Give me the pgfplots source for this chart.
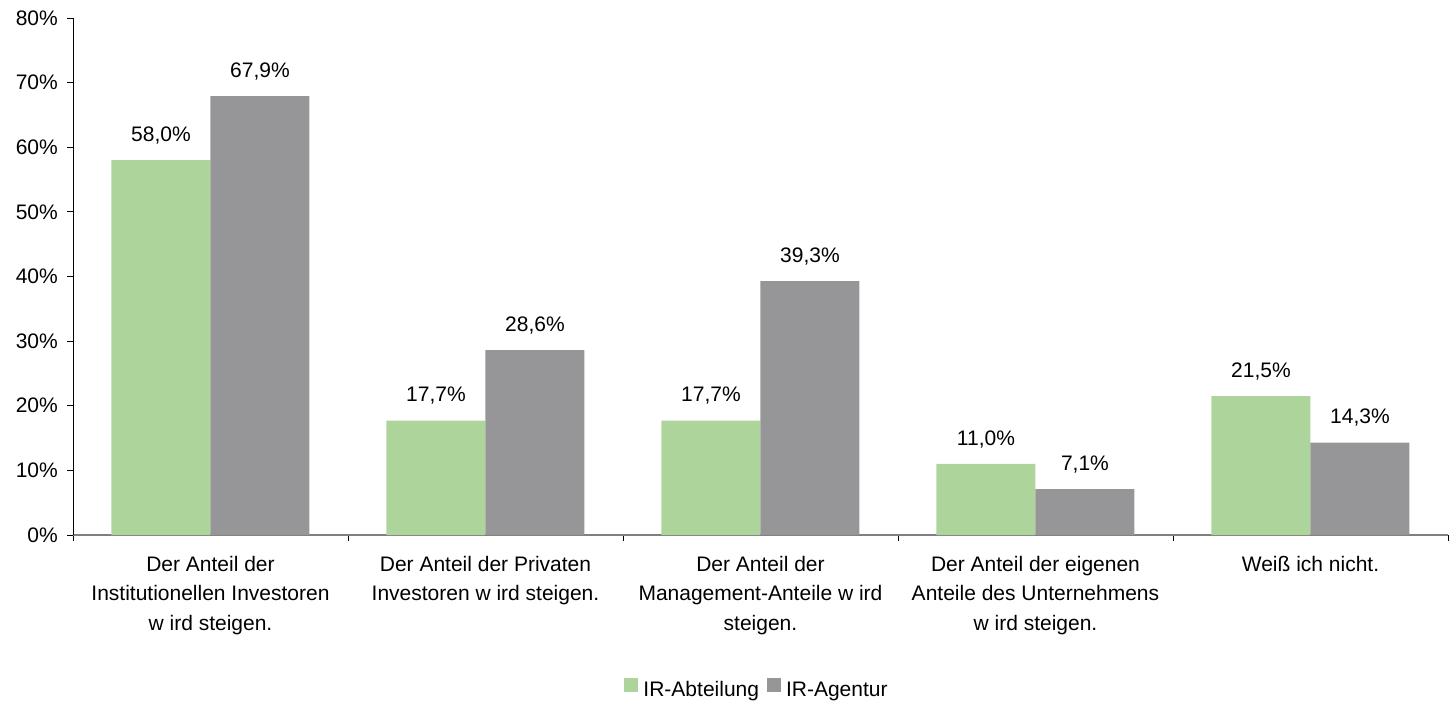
\documentclass[border=0pt]{standalone}
\usepackage{fontspec}
\setmainfont{Liberation Sans}
\usepackage{pgfplots}
\pgfplotsset{compat=1.18}
\definecolor{cgreen}{RGB}{173,213,155}
\definecolor{cgray}{RGB}{150,150,152}
\definecolor{caxis}{RGB}{128,128,128}
\begin{document}
\fontsize{21}{25}\selectfont
\begin{tikzpicture}
\path[use as bounding box] (0,0) rectangle (1451pt,702pt);
\begin{axis}[
  at={(73pt,167pt)}, anchor=south west,
  scale only axis, width=1375pt, height=517pt,
  ybar=0pt, bar width=99pt,
  xmin=-0.5, xmax=4.5, ymin=0, ymax=80,
  axis x line*=bottom, axis y line*=left,
  x axis line style={caxis, line width=1.5pt},
  y axis line style={black, line width=0.8pt},
  ytick={0,10,...,80},
  yticklabel={\pgfmathprintnumber{\tick}\%},
  tick align=outside,
  major tick length=6pt, minor tick length=6pt,
  ytick style={black, line width=0.8pt},
  y tick label style={xshift=-2pt},
  xtick={0,1,2,3,4},
  minor xtick={-0.5,0.5,1.5,2.5,3.5,4.5},
  major x tick style={draw=none},
  minor x tick style={black, line width=0.8pt},
  xticklabels={
    {Der Anteil der\\Institutionellen Investoren\\w ird steigen.},
    {Der Anteil der Privaten\\Investoren w ird steigen.},
    {Der Anteil der\\Management-Anteile w ird\\steigen.},
    {Der Anteil der eigenen\\Anteile des Unternehmens\\w ird steigen.},
    {Weiß ich nicht.}},
  x tick label style={align=center, font=\fontsize{21}{29.5}\selectfont, yshift=-8pt},
  /pgf/number format/assume math mode=true,
  nodes near coords={\pgfmathprintnumber[fixed, fixed zerofill, precision=1, use comma]{\pgfplotspointmeta}\%},
  every node near coord/.append style={black, yshift=9pt},
  legend style={at={(0.4975,-0.2998)}, anchor=center, legend columns=2, draw=none,
    /tikz/every odd column/.append style={column sep=3pt},
    /tikz/every even column/.append style={column sep=6pt},
    inner sep=0pt, cells={anchor=west}},
  legend image code/.code={\fill[#1] (0pt,-1pt) rectangle (14pt,13pt);},
]
\addplot[fill=cgreen, draw=none] coordinates {(0,58.0) (1,17.7) (2,17.7) (3,11.0) (4,21.5)};
\addplot[fill=cgray, draw=none] coordinates {(0,67.9) (1,28.6) (2,39.3) (3,7.1) (4,14.3)};
\legend{IR-Abteilung, IR-Agentur}
\end{axis}
\end{tikzpicture}
\end{document}
